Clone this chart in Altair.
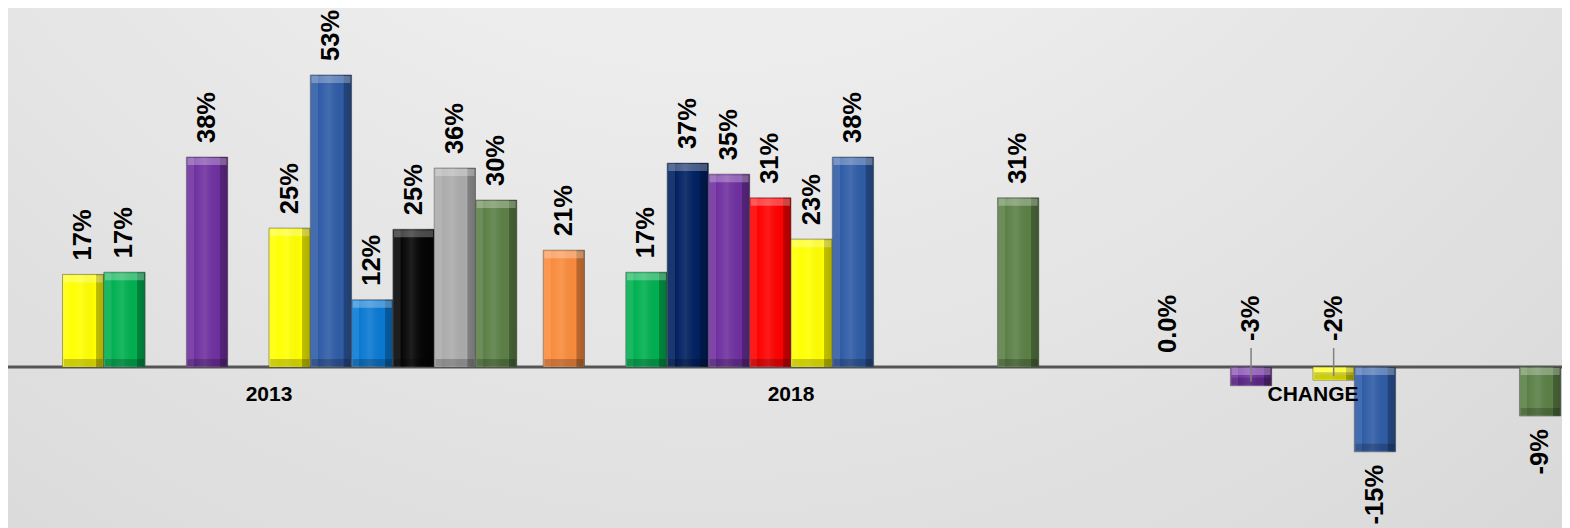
import altair as alt
import pandas as pd

# ---------------- data ----------------
categories = ["2013", "2018", "CHANGE"]
slots = list(range(1, 13))
slot_colors = ["#F98B3C", "#FFFF00", "#00B050", "#002060", "#7030A0", "#FF0000",
               "#FFFF00", "#2F5CA6", "#0A79D2", "#050505", "#ABABAB", "#5B8046"]

values_2013 = [None, 0.168, 0.172, None, 0.381, None, 0.252, 0.530, 0.122, 0.250, 0.361, 0.303]
values_2018 = [0.212, None, 0.172, 0.370, 0.350, 0.307, 0.232, 0.381, None, None, None, 0.307]
values_change = [None, None, 0.0, None, -0.034, None, -0.024, -0.154, None, None, None, -0.089]

rows = []
for cat, vals in zip(categories, [values_2013, values_2018, values_change]):
    for s, v in zip(slots, vals):
        if v is None:
            continue
        label = "0.0%" if v == 0 else f"{round(v * 100):.0f}%"
        pos = "up" if v >= 0 else ("lead" if v > -0.05 else "down")
        rows.append({"category": cat, "slot": s, "value": v, "label": label, "pos": pos})
df = pd.DataFrame(rows)

# ---------------- layout ----------------
W, H = 1554, 520
FONT = "Liberation Sans"

x_scale = alt.Scale(domain=categories, range=[0, 1566], paddingInner=0.0506, paddingOuter=0.0253)
xo_scale = alt.Scale(domain=slots, paddingInner=0, paddingOuter=0)
y_scale = alt.Scale(domain=[-0.2922, 0.6515], nice=False)

X = alt.X("category:N", scale=x_scale, axis=None)
XO = alt.XOffset("slot:O", scale=xo_scale)

base = alt.Chart(df).transform_calculate(
    upper="max(datum.value, 0)", lower="min(datum.value, 0)"
)

background = alt.Chart(alt.Data(values=[{}])).mark_rect(
    color=alt.RadialGradient(
        gradient="radial", x1=0.45, y1=0.0, r1=0.0, x2=0.45, y2=0.0, r2=1.0,
        stops=[alt.GradientStop(color="#fbfbfb", offset=0),
               alt.GradientStop(color="#d3d3d3", offset=1)],
    )
).encode(x=alt.value(0), x2=alt.value(W), y=alt.value(0), y2=alt.value(H))

zero_line = alt.Chart(alt.Data(values=[{"v": 0}])).mark_rule(
    color="#555555", strokeWidth=3
).encode(y=alt.Y("v:Q", scale=y_scale, axis=None), x=alt.value(0), x2=alt.value(W))

bars = base.mark_bar(stroke="#555555", strokeWidth=1, strokeOpacity=0.55).encode(
    x=X, xOffset=XO,
    y=alt.Y("value:Q", scale=y_scale, axis=None), y2=alt.datum(0),
    color=alt.Color("slot:O", scale=alt.Scale(domain=slots, range=slot_colors), legend=None),
)

side_shade = base.mark_bar(
    color=alt.LinearGradient(
        gradient="linear", x1=0, y1=0, x2=1, y2=0,
        stops=[
            alt.GradientStop(color="rgba(255,255,255,0.10)", offset=0),
            alt.GradientStop(color="rgba(255,255,255,0.10)", offset=0.18),
            alt.GradientStop(color="rgba(255,255,255,0)", offset=0.19),
            alt.GradientStop(color="rgba(255,255,255,0.10)", offset=0.45),
            alt.GradientStop(color="rgba(0,0,0,0)", offset=0.8),
            alt.GradientStop(color="rgba(0,0,0,0.25)", offset=0.81),
            alt.GradientStop(color="rgba(0,0,0,0.32)", offset=1),
        ],
    ),
    strokeWidth=0,
).encode(x=X, xOffset=XO, y=alt.Y("value:Q", scale=y_scale, axis=None), y2=alt.datum(0))

top_band = base.transform_filter("datum.value != 0").mark_tick(
    color="white", opacity=0.28, thickness=7, size=39, yOffset=4.5
).encode(x=X, xOffset=XO, y=alt.Y("upper:Q", scale=y_scale, axis=None))

bottom_band = base.transform_filter("datum.value != 0").mark_tick(
    color="black", opacity=0.2, thickness=7, size=39, yOffset=-4.5
).encode(x=X, xOffset=XO, y=alt.Y("lower:Q", scale=y_scale, axis=None))

leaders = base.transform_filter("datum.pos == 'lead'").mark_rule(
    color="#808080", strokeWidth=1.5, yOffset=-4, y2Offset=-19
).encode(x=X, xOffset=XO, y=alt.Y("value:Q", scale=y_scale, axis=None), y2=alt.datum(0))

label_style = dict(font=FONT, fontWeight="bold", fontSize=25.5, angle=270,
                   baseline="middle", color="black")

labels_up = base.transform_filter("datum.pos == 'up'").mark_text(
    align="left", dx=14, **label_style
).encode(x=X, xOffset=XO, y=alt.Y("upper:Q", scale=y_scale, axis=None), text="label:N")

labels_lead = base.transform_filter("datum.pos == 'lead'").mark_text(
    align="left", dx=26, **label_style
).encode(x=X, xOffset=XO, y=alt.Y("upper:Q", scale=y_scale, axis=None), text="label:N")

labels_down = base.transform_filter("datum.pos == 'down'").mark_text(
    align="right", dx=-13, **label_style
).encode(x=X, xOffset=XO, y=alt.Y("lower:Q", scale=y_scale, axis=None), text="label:N")

cat_labels = alt.Chart(pd.DataFrame({"category": categories, "zero": [0, 0, 0]})).mark_text(
    font=FONT, fontWeight="bold", fontSize=21, baseline="middle", dy=28, color="black"
).encode(x=X, y=alt.Y("zero:Q", scale=y_scale, axis=None), text="category:N")

chart = alt.layer(
    background, zero_line, bars, side_shade, top_band, bottom_band,
    leaders, labels_up, labels_lead, labels_down, cat_labels
).properties(
    width=W, height=H, padding=0, autosize=alt.AutoSizeParams(type="none")
).configure_view(strokeWidth=0)

chart.save("out.html", embed_options={"renderer": "svg", "actions": False})
